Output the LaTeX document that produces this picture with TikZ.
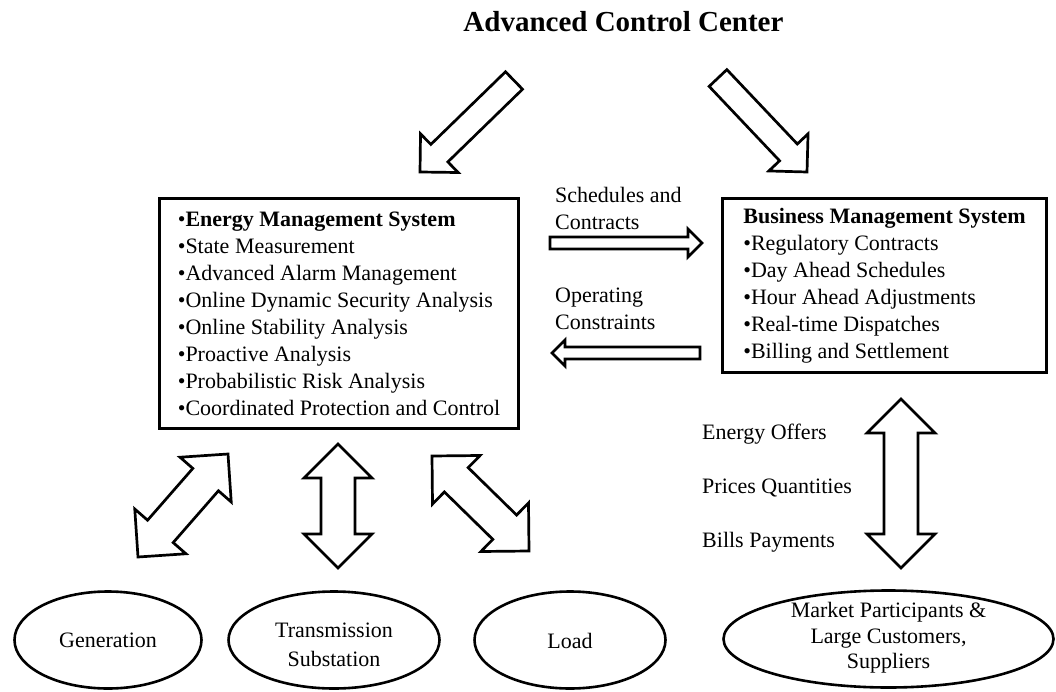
\documentclass[tikz,border=0pt]{standalone}
\usepackage{fontspec}
\setmainfont{Liberation Serif}
\usetikzlibrary{calc,shapes.geometric}

\tikzset{
  panel/.style={draw, line width=2.6pt, rectangle, align=left, inner sep=0pt,
    font=\fontsize{22}{27}\selectfont},
  oval/.style={draw, line width=2.6pt, ellipse, inner sep=0pt},
  ovaltext/.style={align=center, inner sep=0pt, font=\fontsize{22}{27}\selectfont},
  note/.style={align=left, inner sep=0pt, anchor=base west, font=\fontsize{22}{27}\selectfont},
  blk/.style={draw, line width=2.7pt, fill=white, line join=miter},
}

% one-way block arrow: tail, tip, shaft half-width, head half-width, head length
\newcommand\blockarrow[5]{%
  \coordinate (ba-h) at ($(#2)!#5!(#1)$);
  \draw[blk] ($(#1)!#3!90:(#2)$) -- ($(ba-h)!#3!90:(#2)$) -- ($(ba-h)!#4!90:(#2)$)
    -- (#2) -- ($(ba-h)!#4!-90:(#2)$) -- ($(ba-h)!#3!-90:(#2)$)
    -- ($(#1)!#3!-90:(#2)$) -- cycle;
}
% two-way block arrow: tip a, tip b, shaft half-width, head half-width, head length
\newcommand\twowayarrow[5]{%
  \coordinate (da-a) at ($(#1)!#5!(#2)$);
  \coordinate (da-b) at ($(#2)!#5!(#1)$);
  \draw[blk] (#1) -- ($(da-a)!#4!90:(#2)$) -- ($(da-a)!#3!90:(#2)$)
    -- ($(da-b)!#3!-90:(#1)$) -- ($(da-b)!#4!-90:(#1)$) -- (#2)
    -- ($(da-b)!#4!90:(#1)$) -- ($(da-b)!#3!90:(#1)$)
    -- ($(da-a)!#3!-90:(#2)$) -- ($(da-a)!#4!-90:(#2)$) -- cycle;
}

\begin{document}
\begin{tikzpicture}[x=1pt, y=-1pt]
\fill[white] (0,0) rectangle (1056,692);
\useasboundingbox (0,0) rectangle (1056,692);

% title
\node[anchor=base, inner sep=0pt, font=\fontsize{29}{34}\selectfont\bfseries] (title) at (623.5,32) {Advanced Control Center};

% the two management systems
\node[panel, minimum width=359pt, minimum height=230pt] (ems) at (339,313.5) {%
•\textbf{Energy Management System}\\
•State Measurement\\
•Advanced Alarm Management\\
•Online Dynamic Security Analysis\\
•Online Stability Analysis\\
•Proactive Analysis\\
•Probabilistic Risk Analysis\\
•Coordinated Protection and Control};

\node[panel, minimum width=324pt, minimum height=174pt] (bms) at (884.5,285.5) {%
\textbf{Business Management System}\\
•Regulatory Contracts\\
•Day Ahead Schedules\\
•Hour Ahead Adjustments\\
•Real-time Dispatches\\
•Billing and Settlement};

% exchanges between the systems (anchored on the last line's baseline)
\node[note] (sched) at (555,230) {Schedules and\\Contracts};
\node[note] (oper) at (555,329) {Operating\\Constraints};

\node[note] (offers) at (702,439) {Energy Offers};
\node[note] (prices) at (702,493) {Prices Quantities};
\node[note] (bills) at (702,547) {Bills Payments};

% field entities
\node[oval, minimum width=187pt, minimum height=97pt] (gen) at (108,640) {};
\node[ovaltext] (gen-t) at (108,640.5) {Generation};
\node[oval, minimum width=211pt, minimum height=97pt] (trans) at (334,640) {};
\node[ovaltext, font=\fontsize{22}{28.5}\selectfont] (trans-t) at (334,645) {Transmission\\Substation};
\node[oval, minimum width=191pt, minimum height=97pt] (load) at (570,640) {};
\node[ovaltext] (load-t) at (570,641) {Load};
\node[oval, minimum width=330pt, minimum height=97pt] (market) at (888.5,639) {};
\node[ovaltext, font=\fontsize{22}{25.5}\selectfont] (market-t) at (888.5,638) {Market Participants \&\\Large Customers,\\Suppliers};

% arrow end points
\coordinate (cc-l-tail) at (514,80.5);
\coordinate (cc-l-tip)  at (420,172);
\coordinate (cc-r-tail) at (718,78);
\coordinate (cc-r-tip)  at (807,172);
\coordinate (sc-tail) at (550,243);
\coordinate (sc-tip)  at (702,243);
\coordinate (oc-tail) at (700,353);
\coordinate (oc-tip)  at (552,353);
\coordinate (g-lo) at (138,557);
\coordinate (g-hi) at (228,454);
\coordinate (t-hi) at (338,444);
\coordinate (t-lo) at (338,568);
\coordinate (l-hi) at (432,456);
\coordinate (l-lo) at (529,551);
\coordinate (m-hi) at (901,399);
\coordinate (m-lo) at (901,568);

% control center to both systems
\blockarrow{cc-l-tail}{cc-l-tip}{12.2pt}{27pt}{27pt}
\blockarrow{cc-r-tail}{cc-r-tip}{12.2pt}{27pt}{27pt}

% schedules and constraints
\blockarrow{sc-tail}{sc-tip}{6pt}{14pt}{14pt}
\blockarrow{oc-tail}{oc-tip}{6pt}{13pt}{13pt}

% energy management system to the field
\twowayarrow{g-lo}{g-hi}{17pt}{34pt}{34pt}
\twowayarrow{t-hi}{t-lo}{17pt}{34pt}{34pt}
\twowayarrow{l-hi}{l-lo}{17pt}{34pt}{34pt}

% business management system to the market
\twowayarrow{m-hi}{m-lo}{17pt}{34pt}{34pt}
\end{tikzpicture}
\end{document}
